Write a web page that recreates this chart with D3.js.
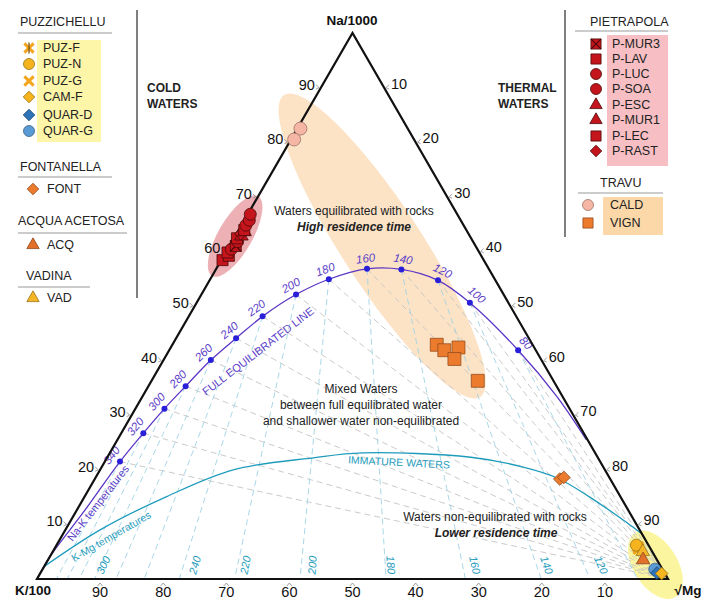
<!DOCTYPE html>
<html><head><meta charset="utf-8">
<script src="https://cdn.jsdelivr.net/npm/d3@7"></script>
<style>body{margin:0;background:#fff}svg{display:block;font-family:"Liberation Sans",Arial,sans-serif}</style>
</head><body><svg id="c" width="707" height="599"></svg>
<script>
// ---------- DATA (ternary %: Na/1000, K/100, sqrt(Mg)) ----------
const axisTicks = [10,20,30,40,50,60,70,80,90];
const eqTemps = [340,320,300,280,260,240,220,200,180,160,140,120,100,80];
const eqPoints = [[21.5,76.1,2.4],[26.7,69.8,3.5],[31.2,64.2,4.6],[35.3,58.8,5.9],[40.1,52.4,7.5],
  [44.1,46.4,9.5],[48.1,40.2,11.7],[52.1,32.9,15.0],[54.9,26.3,18.8],[56.8,19.3,23.9],
  [56.7,13.9,29.4],[54.7,9.1,36.2],[50.6,6.1,43.3],[41.9,2.8,55.3]];
const eqTailLeft = [[0,100,0],[4.1,95.9,0.0],[12.6,86.1,1.3]];
const eqTailRight = [[33.4,0.9,65.7],[25.5,0.2,74.3]];
const immatureLine = [[2.3,97.7,0],[9.0,85.5,5.5],[15.1,71.9,13.0],[20.0,58.9,21.1],[22.2,45.1,32.7],
  [23.1,36.9,40.0],[22.3,20.1,57.6],[20.5,12.7,66.8],[18.5,8.3,73.2],[15.0,4.9,80.1],[10.8,1.7,87.5],[8.4,0.1,91.5]];
const kmgLabels = [300,240,220,200,180,160,140,120];
const kmgLabelK = [89.5,75.0,67.0,56.4,43.9,30.6,19.2,10.6];

const puzSamples = [
  {site:"PUZ-F", na:5.9, k:1.8, mg:92.3},
  {site:"PUZ-G", na:5.5, k:1.9, mg:92.6},
  {site:"PUZ-N", na:6.2, k:1.9, mg:91.9},
  {site:"QUAR-G", na:1.8, k:1.2, mg:97.0},
  {site:"QUAR-D", na:1.1, k:1.2, mg:97.7},
  {site:"CAM-F", na:1.0, k:0.5, mg:98.5}];
const fontSamples = [{site:"FONT", na:18.3, k:8.0, mg:73.7},{site:"FONT", na:18.6, k:7.2, mg:74.2}];
const acqSamples = [{site:"ACQ", na:3.5, k:2.2, mg:94.3}];
const vadSamples = [{site:"VAD", na:5.0, k:1.5, mg:93.5}];
const pietraSamples = [
  {site:"P-LEC", na:58.4, k:41.4, mg:0.2},{site:"P-LAV", na:59.2, k:40.0, mg:0.8},
  {site:"P-LEC", na:59.8, k:39.9, mg:0.3},{site:"P-LUC", na:60.4, k:39.0, mg:0.6},
  {site:"P-MUR3", na:61.0, k:38.0, mg:1.0},{site:"P-SOA", na:61.8, k:37.3, mg:0.9},
  {site:"P-LAV", na:62.4, k:37.1, mg:0.5},{site:"P-ESC", na:62.8, k:36.2, mg:1.0},
  {site:"P-RAST", na:63.2, k:36.1, mg:0.7},{site:"P-MUR1", na:63.6, k:35.3, mg:1.1},
  {site:"P-LAV", na:63.9, k:35.2, mg:0.9},{site:"P-SOA", na:64.8, k:34.5, mg:0.7},
  {site:"P-LUC", na:65.7, k:33.5, mg:0.8},{site:"P-SOA", na:66.8, k:32.8, mg:0.4}];
const travuSamples = [
  {site:"CALD", na:82.5, k:17.0, mg:0.5},{site:"CALD", na:80.5, k:19.0, mg:0.5},
  {site:"VIGN", na:42.9, k:15.2, mg:41.9},{site:"VIGN", na:41.9, k:14.5, mg:43.6},
  {site:"VIGN", na:42.4, k:12.0, mg:45.6},{site:"VIGN", na:40.3, k:13.7, mg:46.0},
  {site:"VIGN", na:36.3, k:12.0, mg:51.7}];

const legendLeftGroups = [
  {title:"PUZZICHELLU", items:["PUZ-F","PUZ-N","PUZ-G","CAM-F","QUAR-D","QUAR-G"]},
  {title:"FONTANELLA", items:["FONT"]},
  {title:"ACQUA ACETOSA", items:["ACQ"]},
  {title:"VADINA", items:["VAD"]}];
const legendRightGroups = [
  {title:"PIETRAPOLA", items:["P-MUR3","P-LAV","P-LUC","P-SOA","P-ESC","P-MUR1","P-LEC","P-RAST"]},
  {title:"TRAVU", items:["CALD","VIGN"]}];

// ---------- STYLES ----------
const RED="#c4141c", REDS="#4a0a0a";
const style = {
  "PUZ-F":{shape:"asterX", fill:"#f3a51d"}, "PUZ-N":{shape:"circle", fill:"#f5b41e"},
  "PUZ-G":{shape:"cross", fill:"#f3a51d"}, "CAM-F":{shape:"diamond", fill:"#f6b51c"},
  "QUAR-D":{shape:"diamond", fill:"#2e73b8"}, "QUAR-G":{shape:"circle", fill:"#5a9bd5"},
  "FONT":{shape:"diamond", fill:"#ec7b2e"}, "ACQ":{shape:"triangle", fill:"#e2702b"},
  "VAD":{shape:"triangle", fill:"#f4b626"},
  "P-MUR3":{shape:"crossSquare", fill:RED}, "P-LAV":{shape:"square", fill:RED},
  "P-LUC":{shape:"circle", fill:RED}, "P-SOA":{shape:"circle", fill:RED},
  "P-ESC":{shape:"triangle", fill:RED}, "P-MUR1":{shape:"triangle", fill:RED},
  "P-LEC":{shape:"square", fill:RED}, "P-RAST":{shape:"diamond", fill:RED},
  "CALD":{shape:"circle", fill:"#f6b6a6"}, "VIGN":{shape:"square", fill:"#ec7b2e"}};

const svg = d3.select("#c");
const xS = d3.scaleLinear().domain([0,100]).range([37,668]);
const yS = d3.scaleLinear().domain([0,100]).range([579,33]);
function tp(na,k,mg){const s=na+k+mg; const a=na/s*100, m=mg/s*100; return [xS(m+a/2), yS(a)];}
const tpa = d => tp(d[0],d[1],d[2]);

function marker(sel, site, x, y, s){
  const st = style[site]; const f = st.fill;
  const sk = site.startsWith("P-") ? REDS : d3.color(f).darker(1.3);
  const g = sel.append("g").attr("transform",`translate(${x},${y})`);
  const sym = (type, area, rot) => g.append("path").attr("d", d3.symbol(type, area)())
      .attr("transform", rot?`rotate(${rot})`:null).attr("fill", f).attr("stroke", sk).attr("stroke-width",0.8);
  if(st.shape==="circle") sym(d3.symbolCircle, Math.PI*s*s/4);
  else if(st.shape==="square") sym(d3.symbolSquare, s*s*0.85);
  else if(st.shape==="diamond") sym(d3.symbolSquare, s*s*0.55, 45);
  else if(st.shape==="triangle") sym(d3.symbolTriangle, s*s*0.55);
  else if(st.shape==="crossSquare"){ sym(d3.symbolSquare, s*s*0.85);
    const h=s*0.46; g.append("path").attr("d",`M${-h},${-h}L${h},${h}M${h},${-h}L${-h},${h}`).attr("stroke",REDS).attr("stroke-width",1.2);}
  else if(st.shape==="cross"||st.shape==="asterX"){ const h=s*0.42;
    g.append("path").attr("d",`M${-h},${-h}L${h},${h}M${h},${-h}L${-h},${h}`).attr("stroke",f).attr("stroke-width",3);
    if(st.shape==="asterX") g.append("path").attr("d",`M0,${-h-1}L0,${h+1}`).attr("stroke","#6b4a10").attr("stroke-width",1.2);}
}

// ---------- ELLIPSES ----------
function ellipse(pt, rx, ry, rot, fill, op){
  const p = tpa(pt);
  svg.append("ellipse").attr("cx",p[0]).attr("cy",p[1]).attr("rx",rx).attr("ry",ry)
    .attr("transform",`rotate(${rot},${p[0]},${p[1]})`).attr("fill",fill).attr("opacity",op);
}
ellipse([61.0,14.8,24.2], 180, 40, 57, "#fde3c6", 1);
ellipse([62.8,37.2,0], 46, 17, -60, "#e99ca2", 0.8);
ellipse([2.6,0.7,96.7], 38, 22, 58, "#faf59e", 1);

// ---------- ISOTHERM DASHED LINES ----------
const gGrid = svg.append("g").attr("fill","none").attr("stroke-width",0.9).attr("stroke-dasharray","6,4");
eqPoints.forEach(d=>{
  const a = tpa(d), m = tp(0,0,100);
  gGrid.append("line").attr("x1",a[0]).attr("y1",a[1]).attr("x2",m[0]).attr("y2",m[1]).attr("stroke","#c4c4c4");
});
eqPoints.forEach(d=>{
  const a = tpa(d), b = tp(0,d[1],d[2]);
  gGrid.append("line").attr("x1",a[0]).attr("y1",a[1]).attr("x2",b[0]).attr("y2",b[1]).attr("stroke","#9fd2e4");
});

// ---------- CURVES ----------
const line = d3.line().curve(d3.curveCatmullRom.alpha(0.5));
svg.append("path").attr("d", line(immatureLine.map(tpa))).attr("fill","none").attr("stroke","#1e9cbc").attr("stroke-width",1.3);
const eqAll = eqTailLeft.concat(eqPoints, eqTailRight).map(tpa);
svg.append("path").attr("d", line(eqAll)).attr("fill","none").attr("stroke","#5b36c6").attr("stroke-width",1.3);
const eqPx = eqPoints.map(tpa);
svg.append("g").selectAll("circle").data(eqPx).join("circle").attr("cx",d=>d[0]).attr("cy",d=>d[1]).attr("r",3).attr("fill","#2a1fd8");
const gEqL = svg.append("g").attr("fill","#5b3ec8").attr("font-size",11.5).attr("font-style","italic");
eqPx.forEach((p,i)=>{
  const idx = i + eqTailLeft.length;
  const pr = eqAll[idx-1], nx = eqAll[idx+1];
  let tx = nx[0]-pr[0], ty = nx[1]-pr[1]; const L = Math.hypot(tx,ty); tx/=L; ty/=L;
  const cx = p[0]+ty*10.5, cy = p[1]-tx*10.5;
  const ang = Math.atan2(ty,tx)*180/Math.PI;
  gEqL.append("text").attr("x",cx).attr("y",cy).attr("text-anchor","middle").attr("dominant-baseline","central")
    .attr("transform",`rotate(${ang},${cx},${cy})`).text(eqTemps[i]);
});
const gKm = svg.append("g").attr("fill","#1e9cbc").attr("font-size",11).attr("font-style","italic");
const apex = tp(100,0,0);
kmgLabels.forEach((t,i)=>{
  const b = tp(0,kmgLabelK[i],100-kmgLabelK[i]);
  let ang = Math.atan2(b[1]-apex[1], b[0]-apex[0])*180/Math.PI;
  if(ang>90) ang -= 180;
  const cx=b[0], cy=565;
  gKm.append("text").attr("x",cx).attr("y",cy).attr("text-anchor","middle").attr("dominant-baseline","central")
    .attr("transform",`rotate(${ang},${cx},${cy})`).text(t);
});

// ---------- TRIANGLE + TICKS ----------
const V = [tp(0,100,0), tp(0,0,100), tp(100,0,0)];
svg.append("path").attr("d", d3.line()(V)+"Z").attr("fill","none").attr("stroke","#111").attr("stroke-width",2.2).attr("stroke-linejoin","miter");
const gT = svg.append("g").attr("font-size",14.5).attr("fill","#111");
const gTk = svg.append("g").attr("stroke","#888").attr("stroke-width",0.8).attr("fill","none");
axisTicks.forEach(v=>{
  const b = tp(0,v,100-v);
  gTk.append("path").attr("d",`M${b[0]-2.5},${b[1]+7}L${b[0]},${b[1]+4}L${b[0]+2.5},${b[1]+7}`);
  gT.append("text").attr("x",b[0]).attr("y",592).attr("text-anchor","middle").attr("dominant-baseline","central").text(v);
  const l = tp(v,100-v,0);
  gTk.append("path").attr("d",`M${l[0]-5},${l[1]-3}L${l[0]-2},${l[1]}L${l[0]-5},${l[1]+1.5}`);
  gT.append("text").attr("x",l[0]-6).attr("y",l[1]-3).attr("text-anchor","end").attr("dominant-baseline","central").text(v);
  const r = tp(100-v,0,v);
  gTk.append("path").attr("d",`M${r[0]+5},${r[1]-3}L${r[0]+2},${r[1]}L${r[0]+5},${r[1]+1.5}`);
  gT.append("text").attr("x",r[0]+7).attr("y",r[1]-4).attr("dominant-baseline","central").text(v);
});

// ---------- SAMPLE POINTS ----------
const gP = svg.append("g");
[travuSamples, pietraSamples, fontSamples, puzSamples.slice(0,3), vadSamples, acqSamples, puzSamples.slice(3)].forEach(arr=>{
  arr.forEach(d=>{
    const p = tp(d.na,d.k,d.mg);
    const s = d.site==="VIGN"?14:(d.site==="CALD"?13:12);
    marker(gP, d.site, p[0], p[1], s);
  });
});

// ---------- TEXT ANNOTATIONS ----------
function txt(x,y,s,o={}){
  const t = svg.append("text").attr("x",x).attr("y",y).attr("font-size",o.size||12).attr("fill",o.fill||"#222")
    .attr("text-anchor",o.anchor||"middle").attr("dominant-baseline","central").text(s);
  if(o.bold) t.attr("font-weight","bold"); if(o.italic) t.attr("font-style","italic");
  if(o.rot!=null) t.attr("transform",`rotate(${o.rot},${x},${y})`);
  return t;
}
txt(352,20,"Na/1000",{bold:true,size:13.5,fill:"#111"});
txt(33,590,"K/100",{bold:true,size:13.5,fill:"#111"});
txt(688,590,"\u221AMg",{bold:true,size:13.5,fill:"#111"});
txt(147,88,"COLD",{bold:true,anchor:"start"}); txt(147,104,"WATERS",{bold:true,anchor:"start"});
txt(498,88,"THERMAL",{bold:true,anchor:"start"}); txt(498,104,"WATERS",{bold:true,anchor:"start"});
txt(354,211,"Waters equilibrated with rocks");
txt(354,227,"High residence time",{bold:true,italic:true});
txt(361,389,"Mixed Waters");
txt(361,405,"between full equilibrated water");
txt(361,421,"and shallower water non-equilibrated");
txt(495,517,"Waters non-equilibrated with rocks");
txt(496,533,"Lower residence time",{bold:true,italic:true});
txt(258,351,"FULL EQUILIBRATED LINE",{size:11,fill:"#5b3ec8",rot:-37.5});
txt(399,462,"IMMATURE WATERS",{size:10.5,fill:"#1e9cbc",rot:3});
txt(98,503,"Na-K temperatures",{size:11,fill:"#5b3ec8",rot:-52});
txt(111,536,"K-Mg temperatures",{size:10.5,fill:"#1e9cbc",rot:-30});

// ---------- LEGENDS ----------
svg.append("line").attr("x1",137).attr("y1",10).attr("x2",137).attr("y2",298).attr("stroke","#555").attr("stroke-width",1.5);
svg.append("line").attr("x1",565).attr("y1",10).attr("x2",565).attr("y2",237).attr("stroke","#555").attr("stroke-width",1.5);
function heading(x,y,s,x1,x2,ly){
  txt(x,y,s,{anchor:"start",size:12.5,fill:"#222"});
  svg.append("line").attr("x1",x1).attr("x2",x2).attr("y1",ly).attr("y2",ly).attr("stroke","#999").attr("stroke-width",1.2);
}
svg.append("rect").attr("x",37).attr("y",40).attr("width",64).attr("height",102).attr("fill","#fdf5a8");
heading(20,22,legendLeftGroups[0].title,18,112,33);
const leftY=[48,64,81,97,115,131];
legendLeftGroups[0].items.forEach((s,i)=>{ marker(svg,s,29,leftY[i],11); txt(43,leftY[i],s,{anchor:"start",size:12.5}); });
heading(20,167,legendLeftGroups[1].title,18,112,177);
marker(svg,"FONT",33,189,11); txt(47,189,"FONT",{anchor:"start",size:12.5});
heading(18,221,legendLeftGroups[2].title,18,127,233);
marker(svg,"ACQ",33,245,11); txt(47,245,"ACQ",{anchor:"start",size:12.5});
heading(26,276,legendLeftGroups[3].title,18,90,287);
marker(svg,"VAD",33,298,11); txt(47,298,"VAD",{anchor:"start",size:12.5});
svg.append("rect").attr("x",607).attr("y",35).attr("width",61).attr("height",131).attr("fill","#f7bfc3");
heading(590,22,legendRightGroups[0].title,575,668,31);
const rightY=[44,59,74,89,105,120,136,151];
legendRightGroups[0].items.forEach((s,i)=>{ marker(svg,s,596,rightY[i],11); txt(612,rightY[i],s,{anchor:"start",size:12.5}); });
svg.append("rect").attr("x",603).attr("y",197).attr("width",60).attr("height",38).attr("fill","#fcd8a8");
heading(600,183,legendRightGroups[1].title,578,663,193);
marker(svg,"CALD",588,205,11); txt(610,205,"CALD",{anchor:"start",size:12.5});
marker(svg,"VIGN",588,223,11); txt(610,223,"VIGN",{anchor:"start",size:12.5});
</script></body></html>
